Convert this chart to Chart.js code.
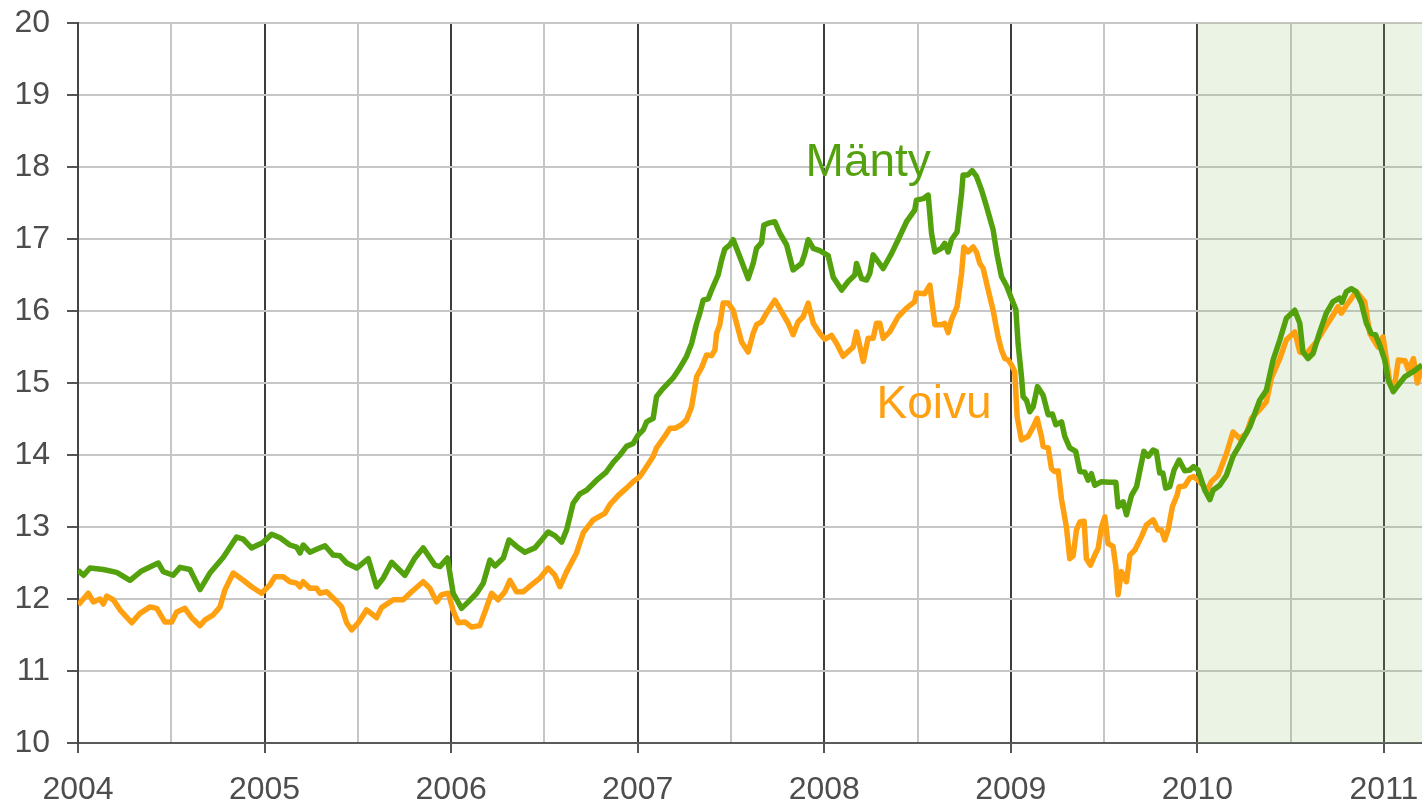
<!DOCTYPE html>
<html>
<head>
<meta charset="utf-8">
<script src="https://cdn.jsdelivr.net/npm/chart.js@4/dist/chart.umd.min.js"></script>
<style>
  html, body { margin: 0; padding: 0; background: #fff; }
  #wrap { width: 1422px; height: 804px; }
</style>
</head>
<body>
<div id="wrap"><canvas id="chartCanvas" width="1422" height="804"></canvas></div>
<script>
// [vuosi, hinta] luettu kuvasta
const manty = [
  [2004.000,12.40],[2004.030,12.33],[2004.064,12.43],[2004.136,12.41],[2004.207,12.37],[2004.279,12.26],[2004.341,12.39],[2004.430,12.50],[2004.457,12.38],[2004.510,12.33],[2004.547,12.44],[2004.600,12.41],[2004.654,12.13],[2004.707,12.36],[2004.779,12.58],[2004.850,12.86],[2004.886,12.83],[2004.930,12.71],[2004.990,12.78],
  [2005.038,12.90],[2005.083,12.85],[2005.136,12.75],[2005.172,12.72],[2005.190,12.64],[2005.207,12.75],[2005.243,12.65],[2005.279,12.69],[2005.324,12.74],[2005.368,12.61],[2005.404,12.60],[2005.440,12.50],[2005.494,12.43],[2005.556,12.56],[2005.600,12.17],[2005.636,12.29],[2005.681,12.51],[2005.752,12.33],[2005.806,12.57],[2005.850,12.71],[2005.913,12.47],[2005.940,12.45],[2005.980,12.57],
  [2006.011,12.08],[2006.056,11.87],[2006.092,11.96],[2006.137,12.08],[2006.172,12.22],[2006.208,12.54],[2006.235,12.46],[2006.280,12.57],[2006.310,12.82],[2006.351,12.73],[2006.395,12.65],[2006.449,12.71],[2006.485,12.82],[2006.520,12.93],[2006.556,12.88],[2006.592,12.79],[2006.619,12.96],[2006.654,13.33],[2006.690,13.46],[2006.726,13.51],[2006.780,13.65],[2006.830,13.76],[2006.870,13.90],[2006.905,14.00],[2006.940,14.12],[2006.976,14.16],
  [2007.003,14.28],[2007.030,14.35],[2007.048,14.46],[2007.083,14.51],[2007.101,14.81],[2007.128,14.90],[2007.190,15.07],[2007.226,15.21],[2007.262,15.37],[2007.289,15.55],[2007.316,15.83],[2007.333,15.97],[2007.351,16.15],[2007.378,16.17],[2007.396,16.29],[2007.431,16.50],[2007.450,16.71],[2007.467,16.86],[2007.494,16.92],[2007.512,16.99],[2007.548,16.75],[2007.592,16.45],[2007.619,16.66],[2007.637,16.87],[2007.664,16.95],[2007.676,17.19],[2007.700,17.22],[2007.735,17.24],[2007.762,17.08],[2007.798,16.92],[2007.833,16.57],[2007.878,16.66],[2007.895,16.79],[2007.914,16.99],[2007.941,16.87],[2007.976,16.84],
  [2008.021,16.77],[2008.048,16.47],[2008.093,16.29],[2008.128,16.41],[2008.164,16.50],[2008.173,16.66],[2008.200,16.45],[2008.227,16.43],[2008.244,16.52],[2008.262,16.78],[2008.316,16.59],[2008.361,16.80],[2008.396,16.99],[2008.441,17.24],[2008.485,17.40],[2008.494,17.54],[2008.530,17.56],[2008.557,17.61],[2008.575,17.08],[2008.593,16.82],[2008.628,16.87],[2008.646,16.94],[2008.664,16.82],[2008.682,16.99],[2008.712,17.10],[2008.736,17.63],[2008.744,17.89],[2008.770,17.89],[2008.793,17.95],[2008.816,17.87],[2008.843,17.68],[2008.870,17.45],[2008.905,17.13],[2008.925,16.80],[2008.950,16.48],[2008.977,16.35],
  [2009.004,16.17],[2009.027,16.02],[2009.039,15.55],[2009.057,15.09],[2009.066,14.81],[2009.084,14.76],[2009.102,14.60],[2009.120,14.67],[2009.143,14.95],[2009.173,14.83],[2009.200,14.56],[2009.223,14.57],[2009.241,14.42],[2009.272,14.46],[2009.289,14.26],[2009.316,14.10],[2009.348,14.05],[2009.370,13.77],[2009.397,13.76],[2009.414,13.65],[2009.432,13.74],[2009.450,13.58],[2009.486,13.63],[2009.530,13.62],[2009.563,13.62],[2009.575,13.28],[2009.602,13.35],[2009.620,13.17],[2009.647,13.44],[2009.674,13.56],[2009.713,14.05],[2009.736,13.98],[2009.763,14.07],[2009.780,14.05],[2009.798,13.75],[2009.815,13.75],[2009.830,13.54],[2009.852,13.56],[2009.875,13.79],[2009.902,13.93],[2009.932,13.78],[2009.959,13.79],[2009.980,13.84],
  [2010.004,13.79],[2010.040,13.51],[2010.067,13.38],[2010.084,13.51],[2010.120,13.58],[2010.156,13.72],[2010.191,13.98],[2010.227,14.14],[2010.281,14.39],[2010.334,14.76],[2010.370,14.90],[2010.406,15.32],[2010.442,15.60],[2010.477,15.90],[2010.522,16.01],[2010.549,15.83],[2010.566,15.43],[2010.593,15.34],[2010.620,15.41],[2010.656,15.71],[2010.691,15.97],[2010.727,16.13],[2010.763,16.18],[2010.775,16.12],[2010.799,16.27],[2010.825,16.31],[2010.850,16.27],[2010.879,16.11],[2010.906,15.83],[2010.932,15.69],[2010.955,15.67],[2010.977,15.53],
  [2011.004,15.32],[2011.023,15.04],[2011.050,14.88],[2011.077,14.97],[2011.113,15.09],[2011.158,15.16],[2011.204,15.25]
];

const koivu = [
  [2004.002,11.92],[2004.055,12.08],[2004.082,11.96],[2004.118,12.00],[2004.136,11.93],[2004.154,12.04],[2004.189,11.99],[2004.225,11.85],[2004.288,11.67],[2004.332,11.80],[2004.386,11.89],[2004.422,11.87],[2004.466,11.68],[2004.502,11.68],[2004.529,11.82],[2004.573,11.87],[2004.609,11.74],[2004.654,11.63],[2004.681,11.71],[2004.725,11.78],[2004.761,11.89],[2004.788,12.13],[2004.832,12.36],[2004.886,12.26],[2004.930,12.17],[2004.984,12.08],
  [2005.030,12.20],[2005.056,12.31],[2005.100,12.31],[2005.136,12.24],[2005.172,12.22],[2005.190,12.17],[2005.207,12.24],[2005.243,12.15],[2005.279,12.15],[2005.297,12.08],[2005.333,12.10],[2005.377,11.99],[2005.413,11.89],[2005.440,11.67],[2005.467,11.57],[2005.502,11.67],[2005.547,11.85],[2005.600,11.74],[2005.627,11.88],[2005.690,11.99],[2005.743,11.99],[2005.788,12.10],[2005.850,12.24],[2005.886,12.15],[2005.922,11.96],[2005.949,12.06],[2005.985,12.08],
  [2006.011,11.84],[2006.038,11.67],[2006.074,11.68],[2006.110,11.61],[2006.154,11.63],[2006.181,11.82],[2006.217,12.08],[2006.252,11.99],[2006.288,12.10],[2006.315,12.26],[2006.351,12.10],[2006.386,12.10],[2006.422,12.18],[2006.476,12.29],[2006.520,12.43],[2006.556,12.33],[2006.583,12.17],[2006.619,12.38],[2006.672,12.64],[2006.708,12.92],[2006.762,13.10],[2006.824,13.19],[2006.851,13.31],[2006.896,13.44],[2006.940,13.54],[2006.976,13.63],
  [2007.012,13.70],[2007.048,13.84],[2007.083,13.98],[2007.101,14.10],[2007.137,14.23],[2007.173,14.37],[2007.199,14.37],[2007.235,14.42],[2007.262,14.49],[2007.289,14.67],[2007.316,15.09],[2007.342,15.21],[2007.369,15.39],[2007.396,15.38],[2007.414,15.46],[2007.423,15.69],[2007.440,15.81],[2007.458,16.11],[2007.485,16.11],[2007.512,16.01],[2007.530,15.83],[2007.557,15.57],[2007.592,15.43],[2007.619,15.69],[2007.637,15.81],[2007.664,15.85],[2007.690,15.97],[2007.735,16.15],[2007.771,15.99],[2007.807,15.83],[2007.833,15.67],[2007.860,15.85],[2007.887,15.92],[2007.914,16.11],[2007.941,15.83],[2007.976,15.69],
  [2008.003,15.61],[2008.039,15.66],[2008.066,15.55],[2008.101,15.37],[2008.155,15.50],[2008.173,15.71],[2008.209,15.30],[2008.235,15.62],[2008.262,15.62],[2008.280,15.83],[2008.298,15.83],[2008.316,15.62],[2008.351,15.71],[2008.396,15.92],[2008.441,16.04],[2008.485,16.13],[2008.494,16.25],[2008.539,16.24],[2008.566,16.36],[2008.593,15.81],[2008.628,15.81],[2008.646,15.83],[2008.664,15.70],[2008.682,15.88],[2008.712,16.06],[2008.736,16.52],[2008.748,16.89],[2008.771,16.82],[2008.798,16.89],[2008.816,16.82],[2008.834,16.66],[2008.852,16.59],[2008.879,16.29],[2008.905,16.01],[2008.932,15.64],[2008.950,15.46],[2008.968,15.34],[2008.986,15.32],
  [2009.004,15.25],[2009.021,15.16],[2009.034,14.53],[2009.057,14.21],[2009.093,14.26],[2009.120,14.39],[2009.141,14.51],[2009.164,14.26],[2009.173,14.12],[2009.200,14.10],[2009.218,13.81],[2009.236,13.77],[2009.254,13.78],[2009.272,13.38],[2009.298,13.00],[2009.316,12.56],[2009.334,12.60],[2009.352,12.96],[2009.370,13.07],[2009.393,13.08],[2009.405,12.56],[2009.427,12.47],[2009.450,12.61],[2009.468,12.70],[2009.486,13.00],[2009.504,13.14],[2009.521,12.77],[2009.548,12.73],[2009.563,12.45],[2009.575,12.06],[2009.593,12.38],[2009.620,12.24],[2009.638,12.61],[2009.665,12.68],[2009.701,12.87],[2009.727,13.03],[2009.763,13.10],[2009.789,12.96],[2009.807,12.96],[2009.825,12.82],[2009.843,12.96],[2009.866,13.28],[2009.891,13.44],[2009.902,13.56],[2009.932,13.57],[2009.959,13.68],[2009.980,13.70],
  [2010.004,13.65],[2010.031,13.58],[2010.049,13.49],[2010.075,13.63],[2010.111,13.72],[2010.156,14.02],[2010.191,14.32],[2010.227,14.23],[2010.263,14.30],[2010.290,14.51],[2010.334,14.63],[2010.370,14.74],[2010.397,15.07],[2010.442,15.34],[2010.477,15.60],[2010.522,15.71],[2010.549,15.43],[2010.584,15.41],[2010.638,15.57],[2010.682,15.76],[2010.727,15.94],[2010.754,16.06],[2010.772,15.97],[2010.799,16.08],[2010.852,16.27],[2010.897,16.13],[2010.924,15.69],[2010.968,15.50],[2010.995,15.64],
  [2011.032,15.00],[2011.059,15.00],[2011.077,15.32],[2011.113,15.31],[2011.131,15.18],[2011.158,15.34],[2011.179,15.00],[2011.204,15.23]
];

const xRange = [2004, 2011.204];
const yRange = [10, 20];
const ennusteAlku = 2010;           // vaalea tausta tästä eteenpäin
// nimien paikat (vuosi, arvo)
const nimet = [
  { text: "Mänty", x: 2007.90, y: 17.87, color: "#54a10e" },
  { text: "Koivu", x: 2008.28, y: 14.51, color: "#ffa011" }
];

const fontti = '"Liberation Sans", Arial, sans-serif';

const tausta = {
  id: "tausta",
  beforeDatasetsDraw(chart) {
    const { ctx, chartArea, scales } = chart;
    const x0 = scales.x.getPixelForValue(ennusteAlku);
    ctx.save();
    ctx.fillStyle = "rgba(150, 195, 110, 0.19)";
    ctx.fillRect(x0, chartArea.top, chartArea.right - x0, chartArea.bottom - chartArea.top);
    ctx.restore();
  }
};

const nimiTekstit = {
  id: "nimiTekstit",
  afterDatasetsDraw(chart) {
    const { ctx, scales } = chart;
    ctx.save();
    ctx.font = "46px " + fontti;
    ctx.textAlign = "left";
    ctx.textBaseline = "alphabetic";
    nimet.forEach(n => {
      ctx.fillStyle = n.color;
      ctx.fillText(n.text, scales.x.getPixelForValue(n.x), scales.y.getPixelForValue(n.y));
    });
    ctx.restore();
  }
};

const toXY = arr => arr.map(([x, y]) => ({ x, y }));

const asetukset = {
  responsive: false,
  animation: false,
  layout: { padding: { top: 23, right: 0, bottom: 0, left: 0 } },
  plugins: { legend: { display: false }, tooltip: { enabled: false } },
  scales: {
    x: {
      type: "linear",
      min: xRange[0],
      max: xRange[1],
      afterFit: s => { s.height = 61; s.paddingLeft = 0; s.paddingRight = 0; },
      ticks: {
        stepSize: 0.5,
        includeBounds: false,
        autoSkip: false,
        maxRotation: 0,
        padding: 18,
        color: "#4d4d4d",
        font: { family: fontti, size: 32 },
        callback: v => (v % 1 === 0 ? String(v) : "")
      },
      grid: {
        lineWidth: 2,
        tickLength: 10,
        color: c => (c.tick && c.tick.value % 1 === 0 ? "#3c3c3c" : "#c6c6c6"),
        tickColor: c => (c.tick && c.tick.value % 1 === 0 ? "#555" : "rgba(0,0,0,0)")
      },
      border: { color: "#5a5a5a", width: 2 }
    },
    y: {
      min: yRange[0],
      max: yRange[1],
      afterFit: s => { s.width = 78; s.paddingTop = 0; s.paddingBottom = 0; },
      ticks: {
        stepSize: 1,
        padding: 17,
        color: "#4d4d4d",
        font: { family: fontti, size: 32 }
      },
      grid: { lineWidth: 2, tickLength: 11, color: "#c6c6c6", tickColor: "#555" },
      border: { color: "#444", width: 2 }
    }
  }
};

const kaavio = new Chart(document.getElementById("chartCanvas").getContext("2d"), {
  type: "line",
  data: {
    datasets: [
      { label: "Mänty", data: toXY(manty), borderColor: "#54a10e", borderWidth: 5.5, pointRadius: 0, tension: 0, borderJoinStyle: "round" },
      { label: "Koivu", data: toXY(koivu), borderColor: "#ffa011", borderWidth: 5.5, pointRadius: 0, tension: 0, borderJoinStyle: "round" }
    ]
  },
  options: asetukset,
  plugins: [tausta, nimiTekstit]
});

// piirtoalue: yläreuna y=23, oikea reuna kankaan reunassa
const ala = kaavio.chartArea;
const dTop = ala.top - 23;
const dRight = 1422 - ala.right;
if (Math.abs(dTop) > 0.5 || Math.abs(dRight) > 0.5) {
  kaavio.config.options.layout.padding = { top: 23 - dTop, right: -dRight, bottom: 0, left: 0 };
  kaavio.update();
}
</script>
</body>
</html>
